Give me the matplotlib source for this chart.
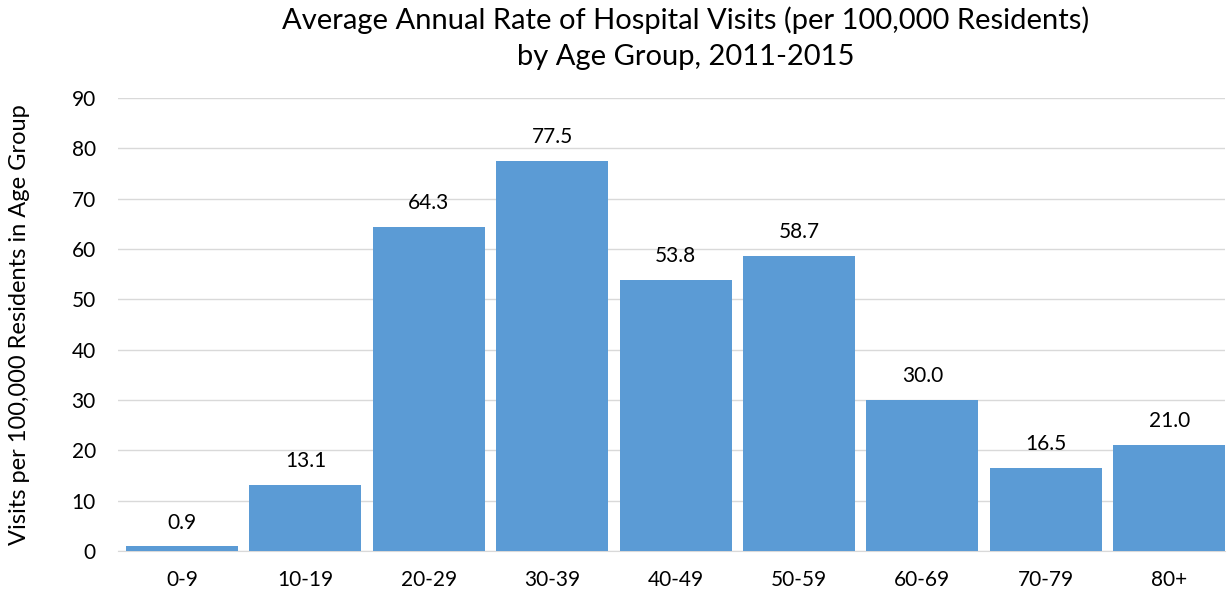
import matplotlib
matplotlib.use("Agg")
import matplotlib.pyplot as plt

categories = ["0-9", "10-19", "20-29", "30-39", "40-49", "50-59", "60-69", "70-79", "80+"]
values = [0.9, 13.1, 64.3, 77.5, 53.8, 58.7, 30.0, 16.5, 21.0]
yticks = [0, 10, 20, 30, 40, 50, 60, 70, 80, 90]

plt.rcParams['font.family'] = ['Lato', 'DejaVu Sans']

W, H = 1227, 596
fig = plt.figure(figsize=(W / 100, H / 100), dpi=100)
ax_left, ax_right, ax_bottom, ax_top = 118, 1225, 551, 98
ax = fig.add_axes([ax_left / W, (H - ax_bottom) / H, (ax_right - ax_left) / W, (ax_bottom - ax_top) / H])

x = list(range(len(categories)))
ax.bar(x, values, width=0.908, color="#5B9BD5", zorder=3)
for xi, v in zip(x, values):
    ax.annotate(f"{v:.1f}", (xi, v), xytext=(0, 10), textcoords="offset points",
                ha="center", va="bottom", fontsize=15, color="#000000")

# category spacing ~123.4 px, first centre at 182 px
step = 123.4
ax.set_xlim(-(182 - ax_left) / step, (ax_right - 182) / step)
ax.set_ylim(0, 90)
ax.set_yticks(yticks)
ax.set_xticks(x)
ax.set_xticklabels(categories)
ax.yaxis.grid(True, color="#D9D9D9", linewidth=1, zorder=0)
for s in ["top", "right", "left"]:
    ax.spines[s].set_visible(False)
ax.spines["bottom"].set_color("#D9D9D9")
ax.tick_params(axis="both", length=0, labelsize=15, colors="#000000")
ax.tick_params(axis="x", pad=14)
ax.tick_params(axis="y", pad=16)
ax.set_ylabel("Visits per 100,000 Residents in Age Group", fontsize=17, labelpad=30)
fig.suptitle("Average Annual Rate of Hospital Visits (per 100,000 Residents)\nby Age Group, 2011-2015",
             fontsize=21, y=0.99, x=0.559, linespacing=1.5)

fig.savefig("out.png", dpi=100)
